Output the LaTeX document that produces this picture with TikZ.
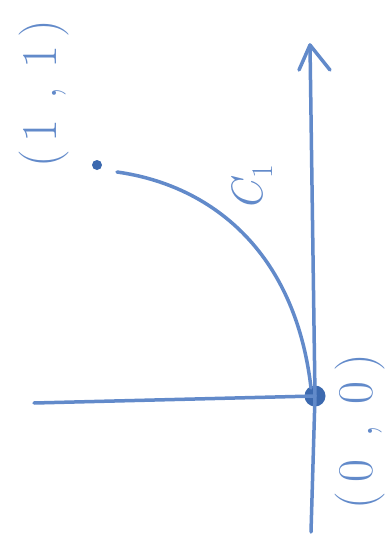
\documentclass[tikz,border=0pt]{standalone}
\usepackage{fontspec}
\usetikzlibrary{arrows.meta}
\definecolor{ink}{RGB}{98,138,202}
\definecolor{inkdark}{RGB}{60,105,175}
\tikzset{
  pen/.style={draw=ink, line width=3.5pt, line cap=round, line join=round},
  lbl/.style={text=ink, rotate=90, inner sep=0pt, font=\fontsize{50}{52}\selectfont},
}
\begin{document}
\begin{tikzpicture}[x=1pt,y=-1pt]
\useasboundingbox (0,0) rectangle (390,549);
\fill[white] (0,0) rectangle (390,549);
\coordinate (ytop) at (310,45);
\coordinate (ybot) at (311,532);
\coordinate (xleft) at (34,403);
\coordinate (al) at (299,70);
\coordinate (ar) at (330,70);
\coordinate (cs) at (117,172);
\node[circle, fill=inkdark, inner sep=0pt, minimum size=21pt] (o) at (315,396) {};
\node[circle, fill=inkdark, inner sep=0pt, minimum size=10pt] (p) at (97,165) {};
\draw[pen] (ybot) -- (o.center) -- (ytop);
\draw[pen] (al) -- (ytop) -- (ar);
\draw[pen] (xleft) -- (o.center);
\draw[pen] (cs) .. controls (210,185) and (295,250) .. (311,388);
\node[lbl] (l11) at (44,94) {(\kern8pt1\kern20pt,\kern18pt1\kern8pt)};
\node[lbl] (l00) at (360,432) {(\kern10pt0\kern22pt,\kern20pt0\kern10pt)};
\node[lbl, font=\fontsize{44}{46}\selectfont] (c1) at (252,188) {\itshape C\kern2pt\raisebox{-10pt}{\fontsize{30}{32}\selectfont\upshape 1}};
\end{tikzpicture}
\end{document}
